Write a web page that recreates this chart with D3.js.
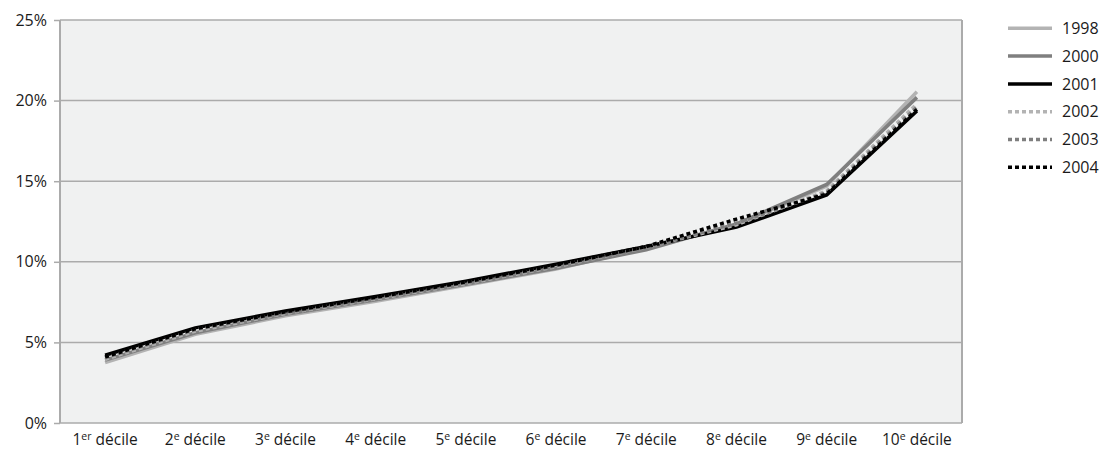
<!DOCTYPE html>
<html><head><meta charset="utf-8">
<script src="https://cdn.jsdelivr.net/npm/d3@7"></script>
<style>body{margin:0;background:#fff}svg{display:block;font-family:"Open Sans",sans-serif}</style>
</head><body><svg id="c" width="1106" height="452"></svg>
<script>
const deciles = ["1","2","3","4","5","6","7","8","9","10"];
const decileSup = ["er","e","e","e","e","e","e","e","e","e"];
const yTicks = [0,5,10,15,20,25];
const years = ["1998","2000","2001","2002","2003","2004"];
const v1998 = [3.75,5.5,6.65,7.55,8.55,9.55,10.85,12.3,14.7,20.55];
const v2000 = [3.9,5.6,6.75,7.65,8.6,9.6,10.75,12.35,14.8,20.2];
const v2001 = [4.2,5.9,6.95,7.85,8.8,9.85,10.95,12.15,14.15,19.35];
const v2002 = [3.95,5.7,6.8,7.7,8.65,9.7,10.9,12.3,14.4,19.8];
const v2003 = [4.05,5.8,6.85,7.75,8.7,9.75,10.9,12.4,14.3,19.6];
const v2004 = [4.1,5.85,6.9,7.8,8.75,9.8,10.95,12.65,14.2,19.45];

const seriesValues = [v1998,v2000,v2001,v2002,v2003,v2004];
const colors = ["#b3b3b3","#7f7f7f","#000000","#b3b3b3","#7f7f7f","#000000"];
const dashes = [null,null,null,"4,3","4,3","4,3"];

const svg = d3.select("#c");
const L=60,R=962,T=20,B=423;
const x = d3.scaleBand().domain(deciles).range([L,R]);
const y = d3.scaleLinear().domain([0,25]).range([B,T]);

svg.append("rect").attr("x",L).attr("y",T).attr("width",R-L).attr("height",B-T).attr("fill","#f0f1f1");
svg.append("g").selectAll("line").data(yTicks).join("line")
  .attr("x1",L).attr("x2",R).attr("y1",d=>y(d)).attr("y2",d=>y(d))
  .attr("stroke","#ababab").attr("stroke-width",1.5);
svg.append("line").attr("x1",L).attr("x2",L).attr("y1",T).attr("y2",B).attr("stroke","#ababab").attr("stroke-width",2);
svg.append("line").attr("x1",R).attr("x2",R).attr("y1",T).attr("y2",B).attr("stroke","#ababab").attr("stroke-width",2);

const ya = svg.append("g").attr("transform",`translate(${L},0)`)
  .call(d3.axisLeft(y).tickValues(yTicks).tickFormat(d=>d+"%").tickSize(6).tickPadding(7));
ya.select(".domain").remove();
ya.selectAll(".tick line").attr("stroke","#ababab").attr("stroke-width",1.5);
ya.selectAll("text").attr("font-size",16).attr("fill","#1a1a1a").attr("font-family","'Open Sans',sans-serif");

const xl = svg.append("g").selectAll("text").data(deciles).join("text")
  .attr("x",d=>x(d)+x.bandwidth()/2).attr("y",445).attr("text-anchor","middle")
  .attr("font-size",15.5).attr("fill","#1a1a1a");
xl.append("tspan").text(d=>d);
xl.append("tspan").attr("font-size",10.5).attr("dy",-5).text((d,i)=>decileSup[i]);
xl.append("tspan").attr("dy",5).text(" décile");

const line = d3.line().x((d,i)=>x(deciles[i])+x.bandwidth()/2).y(d=>y(d));
svg.append("g").selectAll("path").data(seriesValues).join("path")
  .attr("d",d=>line(d)).attr("fill","none")
  .attr("stroke",(d,i)=>colors[i]).attr("stroke-width",3.5)
  .attr("stroke-dasharray",(d,i)=>dashes[i]);

const lg = svg.append("g").selectAll("g").data(years).join("g")
  .attr("transform",(d,i)=>`translate(1008,${28.3+i*27.8})`);
lg.append("line").attr("x1",0).attr("x2",44).attr("stroke",(d,i)=>colors[i]).attr("stroke-width",3.5)
  .attr("stroke-dasharray",(d,i)=>dashes[i]);
lg.append("text").attr("x",54).attr("dy","0.35em").attr("font-size",16).attr("fill","#1a1a1a").text(d=>d);
</script></body></html>
